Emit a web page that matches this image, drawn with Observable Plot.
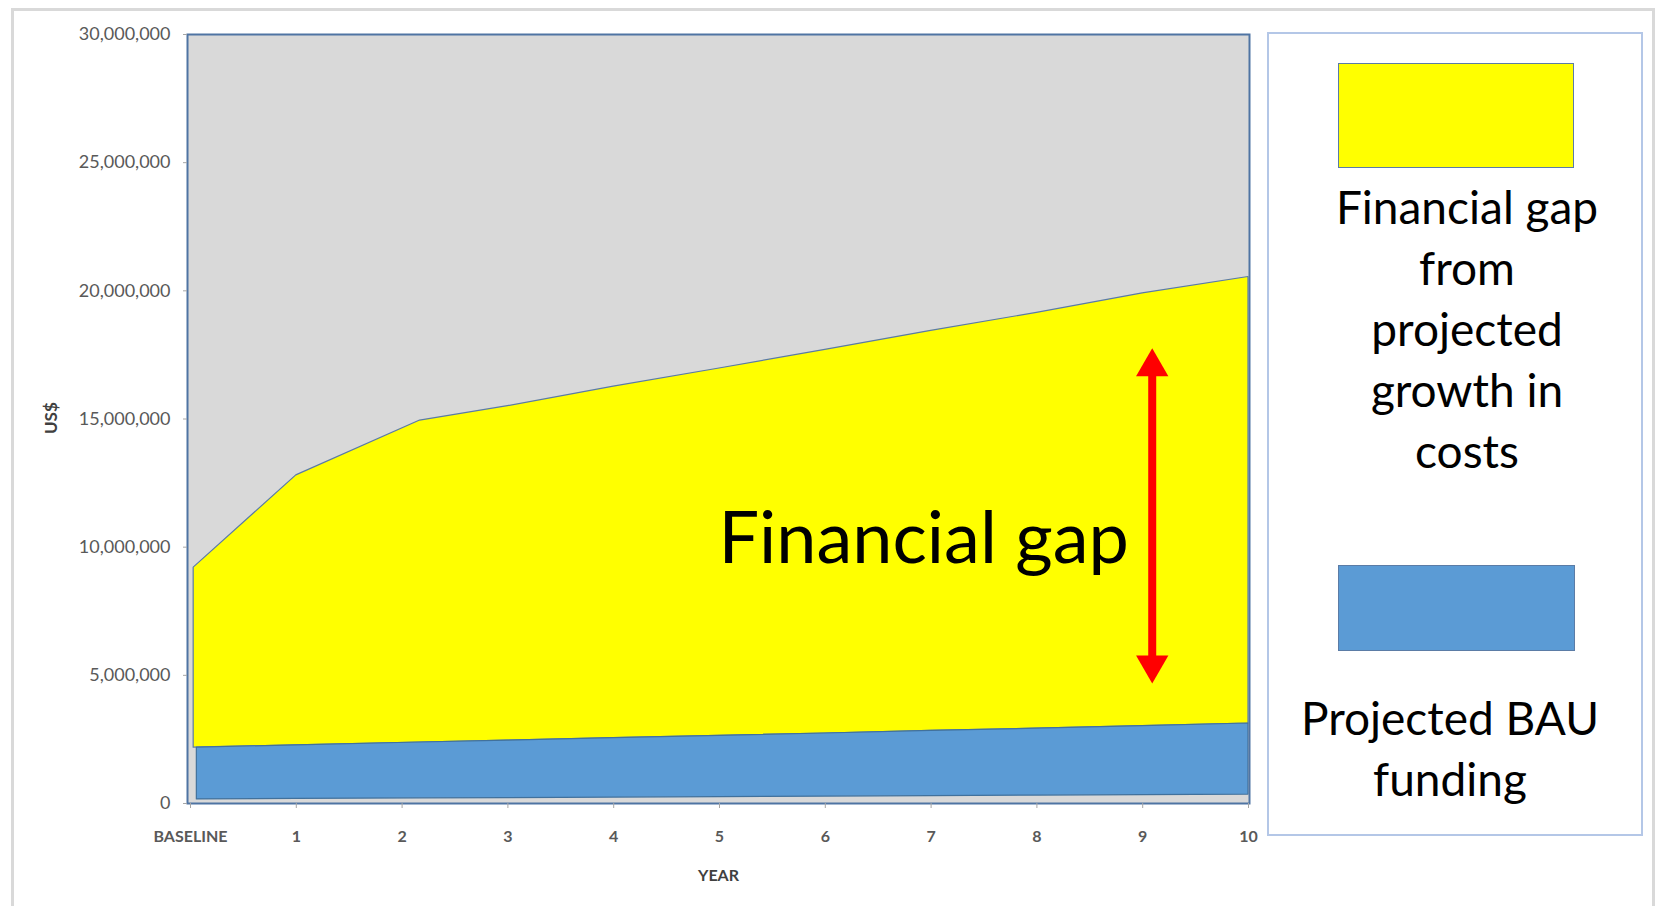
<!DOCTYPE html>
<html><head><meta charset="utf-8">
<script src="https://cdn.jsdelivr.net/npm/d3@7"></script>
<script src="https://cdn.jsdelivr.net/npm/@observablehq/plot@0.6"></script>
<style>
html,body{margin:0;padding:0;background:#fff;width:1655px;height:906px;overflow:hidden;font-family:Lato,"Open Sans",sans-serif;}
#outer{position:absolute;left:11px;top:8px;width:1644px;height:1000px;border:3px solid #d9d9d9;box-sizing:border-box;}
#chart{position:absolute;left:0;top:0;}
#legendBox{position:absolute;left:1267px;top:32px;width:376px;height:804px;border:2px solid #b4c7e7;box-sizing:border-box;}
.sw{position:absolute;box-sizing:border-box;border:1.5px solid #5b7ca6;}
.lt{position:absolute;width:380px;text-align:center;font-family:Lato,sans-serif;font-size:46px;line-height:61px;color:#000;}
</style></head><body>
<div id="outer"></div>
<div id="chart"></div>
<div id="legendBox"></div>
<div class="sw" id="sw1" style="left:1338px;top:63px;width:236px;height:105px;background:#ffff00;"></div>
<div class="lt" id="lt1" style="left:1277px;top:176px;"></div>
<div class="sw" id="sw2" style="left:1338px;top:565px;width:237px;height:86px;background:#5b9bd5;"></div>
<div class="lt" id="lt2" style="left:1260px;top:687px;"></div>
<script>
// ---- data ----
const xTicks = [0, 1, 2, 3, 4, 5, 6, 7, 8, 9, 10];
const xLabels = ["BASELINE", "1", "2", "3", "4", "5", "6", "7", "8", "9", "10"];
const yTicks = [0, 5000000, 10000000, 15000000, 20000000, 25000000, 30000000];

// projected costs (top of yellow)
const gapX = [0.03, 1, 2.17, 3, 4, 5, 6, 7, 8, 9, 10];
const projectedCosts = [9200000, 12800000, 14940000, 15500000, 16260000, 16970000, 17700000, 18440000, 19140000, 19900000, 20540000];
const bauAtGap = [2180000, 2270000, 2380000, 2450000, 2550000, 2640000, 2730000, 2830000, 2920000, 3020000, 3120000];

// projected BAU funding (blue band)
const bauX = [0.06, 1, 2.17, 3, 4, 5, 6, 7, 8, 9, 10];
const bauTop = [2180000, 2270000, 2380000, 2450000, 2550000, 2640000, 2730000, 2830000, 2920000, 3020000, 3120000];
const bauBottom = [160000, 180000, 200000, 210000, 230000, 250000, 270000, 290000, 310000, 330000, 350000];

const arrowX = [9.09];
const arrowTop = [17600000];
const arrowBottom = [4840000];

const gapLabel = ["Financial gap"];
const gapLabelX = [6.93];
const gapLabelY = [9390000];

const legendLabels = ["Financial gap\nfrom\nprojected\ngrowth in\ncosts", "Projected BAU\nfunding"];
const axisTitles = ["US$", "YEAR"];

// ---- tables ----
const gapRows = gapX.map((x, i) => ({x, lo: bauAtGap[i], hi: projectedCosts[i]}));
const bauRows = bauX.map((x, i) => ({x, lo: bauBottom[i], hi: bauTop[i]}));
const arrowRows = arrowX.map((x, i) => ({x, top: arrowTop[i], bottom: arrowBottom[i]}));
const labelRows = gapLabel.map((t, i) => ({t, x: gapLabelX[i], y: gapLabelY[i]}));

const chart = Plot.plot({
  width: 1655, height: 906,
  marginLeft: 187, marginRight: 406, marginTop: 34, marginBottom: 103,
  style: {fontFamily: "Lato, sans-serif", background: "transparent"},
  x: {domain: [0, 10], insetLeft: 3, insetRight: 1},
  y: {domain: [0, 30000000]},
  marks: [
    Plot.frame({fill: "#d9d9d9"}),
    Plot.areaY(gapRows, {x: "x", y1: "lo", y2: "hi", fill: "#ffff00", stroke: "#5a7ba6", strokeWidth: 1.2}),
    Plot.areaY(bauRows, {x: "x", y1: "lo", y2: "hi", fill: "#5b9bd5", stroke: "#41719c", strokeWidth: 1.2}),
    Plot.frame({stroke: "#4f74a3", strokeWidth: 2}),
    Plot.axisY({ticks: yTicks, tickFormat: d3.format(","), tickSize: 4, tickPadding: 13, stroke: "#a6a6a6", fill: "#595959", fontSize: 18, label: null}),
    Plot.axisX({ticks: xTicks, tickFormat: d => xLabels[d], tickSize: 5, tickPadding: 22, stroke: "#a6a6a6", fill: "#595959", fontSize: 16, fontWeight: "bold", label: null}),
    Plot.text([axisTitles[0]], {frameAnchor: "left", dx: -136, dy: 15, rotate: -90, text: d => d, fontSize: 17, fontWeight: "bold", fill: "#404040"}),
    Plot.text([axisTitles[1]], {frameAnchor: "bottom", dy: 72, text: d => d, fontSize: 16, fontWeight: "bold", fill: "#404040", lineAnchor: "middle"}),
    Plot.text(labelRows, {x: "x", y: "y", text: "t", fontSize: 72, fill: "#000", lineAnchor: "bottom", textAnchor: "middle"}),
    Plot.ruleX(arrowRows, {x: "x", y1: "top", y2: "bottom", stroke: "#ff0000", strokeWidth: 8, insetTop: 16, insetBottom: 16}),
    Plot.dot(arrowRows, {x: "x", y: "top", symbol: "triangle", r: 12, fill: "#ff0000", stroke: "none", dy: 14.5}),
    Plot.dot(arrowRows, {x: "x", y: "bottom", symbol: "triangle", r: 12, fill: "#ff0000", stroke: "none", dy: -14.5, rotate: 180})
  ]
});
document.getElementById("chart").appendChild(chart);
document.getElementById("lt1").innerHTML = legendLabels[0].split("\n").join("<br>");
document.getElementById("lt2").innerHTML = legendLabels[1].split("\n").join("<br>");
</script>
</body></html>
